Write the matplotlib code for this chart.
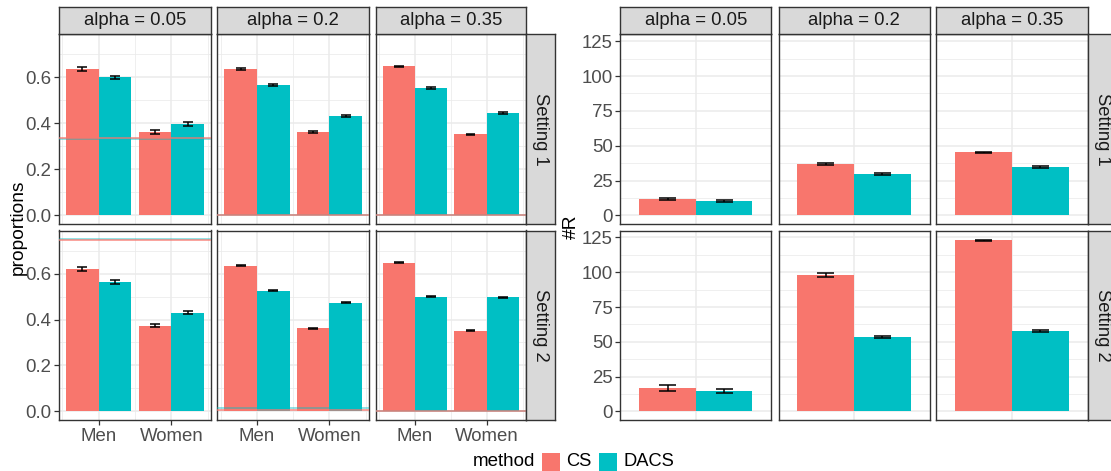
import numpy as np
import matplotlib
matplotlib.use("Agg")
import matplotlib.pyplot as plt
from matplotlib.patches import Rectangle
from matplotlib.ticker import FixedLocator

plt.rcParams['font.family'] = ['Liberation Sans', 'DejaVu Sans']

# ---------------- data ----------------
alpha_labels = ["alpha = 0.05", "alpha = 0.2", "alpha = 0.35"]
setting_labels = ["Setting 1", "Setting 2"]
groups = ["Men", "Women"]
methods = ["CS", "DACS"]
method_colors = ["#F8766D", "#00BFC4"]

# proportions, per alpha: [Men, Women]
prop_cs_s1 = [[0.636, 0.362], [0.635, 0.361], [0.648, 0.353]]
prop_dacs_s1 = [[0.600, 0.398], [0.566, 0.431], [0.553, 0.444]]
prop_cs_s2 = [[0.620, 0.373], [0.635, 0.361], [0.647, 0.351]]
prop_dacs_s2 = [[0.564, 0.429], [0.526, 0.474], [0.500, 0.496]]

prop_err_cs_s1 = [[0.009, 0.009], [0.004, 0.004], [0.003, 0.003]]
prop_err_dacs_s1 = [[0.008, 0.008], [0.004, 0.004], [0.004, 0.004]]
prop_err_cs_s2 = [[0.007, 0.006], [0.003, 0.003], [0.002, 0.002]]
prop_err_dacs_s2 = [[0.008, 0.007], [0.003, 0.003], [0.002, 0.002]]

# reference horizontal lines per alpha
hline_cs_s1 = [0.335, 0.0, 0.0]
hline_dacs_s1 = [0.334, 0.0, 0.0]
hline_cs_s2 = [0.745, 0.007, 0.0]
hline_dacs_s2 = [0.751, 0.014, 0.0]

# number of rejections, per alpha
nR_cs_s1 = [11.8, 36.9, 45.3]
nR_dacs_s1 = [10.2, 29.7, 34.6]
nR_cs_s2 = [16.6, 97.8, 123.0]
nR_dacs_s2 = [14.6, 53.2, 57.6]

nR_err_cs_s1 = [0.8, 0.5, 0.3]
nR_err_dacs_s1 = [0.7, 0.5, 0.5]
nR_err_cs_s2 = [2.0, 1.3, 0.3]
nR_err_dacs_s2 = [1.5, 0.8, 0.8]

prop_y_ticks = [0.0, 0.2, 0.4, 0.6]
prop_y_minor = [0.1, 0.3, 0.5, 0.7]
nR_y_ticks = [0, 25, 50, 75, 100, 125]
nR_y_minor = [12.5, 37.5, 62.5, 87.5, 112.5]

# ---------------- styling ----------------
W, H = 1111, 471
fig = plt.figure(figsize=(W / 100, H / 100), dpi=100)

GRAY20 = "#333333"
GRID = "#EBEBEB"
STRIP_BG = "#D9D9D9"
TICK_TXT = "#4D4D4D"
FS = 13.4
FS_STRIP = 13.3
BAR_W = 0.45
CAP = 0.0675


def px_axes(x0, y0, x1, y1):
    return fig.add_axes([x0 / W, 1 - y1 / H, (x1 - x0) / W, (y1 - y0) / H])


def style_panel(ax):
    for s in ax.spines.values():
        s.set_color(GRAY20)
        s.set_linewidth(1.0)
    ax.set_facecolor("white")
    ax.set_axisbelow(True)
    ax.grid(which="major", color=GRID, lw=1.1)
    ax.grid(which="minor", color=GRID, lw=0.55)
    ax.tick_params(which="minor", length=0)
    ax.tick_params(which="major", color=GRAY20, width=0.9, length=3.5,
                   labelsize=FS, labelcolor=TICK_TXT, pad=2)


def strip(x0, y0, x1, y1, text, rotation=0):
    sa = px_axes(x0, y0, x1, y1)
    sa.set_facecolor(STRIP_BG)
    sa.set_xticks([])
    sa.set_yticks([])
    for s in sa.spines.values():
        s.set_color(GRAY20)
        s.set_linewidth(1.0)
    sa.text(0.5, 0.5, text, ha="center", va="center", rotation=rotation,
            fontsize=FS_STRIP, color="#1A1A1A", transform=sa.transAxes)


def errbar(ax, x, y, e):
    ax.vlines(x, y - e, y + e, color="black", lw=1.1, zorder=4)
    ax.hlines([y - e, y + e], x - CAP, x + CAP, color="black", lw=1.1, zorder=4)


rows_y = [(34.3, 224.0), (230.5, 420.0)]
left_cols = [(59.0, 211.0), (217.5, 369.0), (375.7, 526.0)]
right_cols = [(620.4, 771.2), (778.6, 929.7), (936.3, 1087.8)]

prop_cs = [prop_cs_s1, prop_cs_s2]
prop_dacs = [prop_dacs_s1, prop_dacs_s2]
prop_err_cs = [prop_err_cs_s1, prop_err_cs_s2]
prop_err_dacs = [prop_err_dacs_s1, prop_err_dacs_s2]
hl_cs = [hline_cs_s1, hline_cs_s2]
hl_dacs = [hline_dacs_s1, hline_dacs_s2]
nR_cs = [nR_cs_s1, nR_cs_s2]
nR_dacs = [nR_dacs_s1, nR_dacs_s2]
nR_err_cs = [nR_err_cs_s1, nR_err_cs_s2]
nR_err_dacs = [nR_err_dacs_s1, nR_err_dacs_s2]

# ---------------- left plot: proportions ----------------
xg = np.arange(1, len(groups) + 1)
for r in range(2):
    y0, y1 = rows_y[r]
    for c in range(3):
        x0, x1 = left_cols[c]
        ax = px_axes(x0, y0, x1, y1)
        style_panel(ax)
        cs = np.array(prop_cs[r][c])
        da = np.array(prop_dacs[r][c])
        ax.bar(xg - BAR_W / 2, cs, width=BAR_W, color=method_colors[0], zorder=2)
        ax.bar(xg + BAR_W / 2, da, width=BAR_W, color=method_colors[1], zorder=2)
        for i in range(len(groups)):
            errbar(ax, xg[i] - BAR_W / 2, cs[i], prop_err_cs[r][c][i])
            errbar(ax, xg[i] + BAR_W / 2, da[i], prop_err_dacs[r][c][i])
        ax.axhline(hl_dacs[r][c], color=method_colors[1], lw=1.1, alpha=0.55, zorder=3)
        ax.axhline(hl_cs[r][c], color=method_colors[0], lw=1.1, alpha=0.85, zorder=3)
        ax.set_xlim(0.455, 2.545)
        ax.set_ylim(-0.0375, 0.7875)
        ax.set_xticks(xg)
        ax.xaxis.set_minor_locator(FixedLocator([0.5, 1.5, 2.5]))
        ax.set_yticks(prop_y_ticks)
        ax.yaxis.set_minor_locator(FixedLocator(prop_y_minor))
        if c == 0:
            ax.set_yticklabels([f"{v:.1f}" for v in prop_y_ticks])
        else:
            ax.set_yticklabels([])
            ax.tick_params(axis="y", which="major", length=0)
        if r == 1:
            ax.set_xticklabels(groups)
        else:
            ax.set_xticklabels([])
            ax.tick_params(axis="x", which="major", length=0)
        if r == 0:
            strip(x0, 7.3, x1, 34.3, alpha_labels[c])
    strip(526.0, y0, 555.0, y1, setting_labels[r], rotation=-90)

# ---------------- right plot: #R ----------------
for r in range(2):
    y0, y1 = rows_y[r]
    for c in range(3):
        x0, x1 = right_cols[c]
        ax = px_axes(x0, y0, x1, y1)
        style_panel(ax)
        xc = 1.0
        ax.bar(xc - BAR_W / 2, nR_cs[r][c], width=BAR_W, color=method_colors[0], zorder=2)
        ax.bar(xc + BAR_W / 2, nR_dacs[r][c], width=BAR_W, color=method_colors[1], zorder=2)
        errbar(ax, xc - BAR_W / 2, nR_cs[r][c], nR_err_cs[r][c])
        errbar(ax, xc + BAR_W / 2, nR_dacs[r][c], nR_err_dacs[r][c])
        ax.set_xlim(0.4, 1.6)
        ax.set_ylim(-6.2, 130.0)
        ax.set_xticks([xc])
        ax.set_xticklabels([])
        ax.tick_params(axis="x", which="major", length=0)
        ax.set_yticks(nR_y_ticks)
        ax.yaxis.set_minor_locator(FixedLocator(nR_y_minor))
        if c == 0:
            ax.set_yticklabels([str(v) for v in nR_y_ticks])
        else:
            ax.set_yticklabels([])
            ax.tick_params(axis="y", which="major", length=0)
        if r == 0:
            strip(x0, 7.3, x1, 34.3, alpha_labels[c])
    strip(1087.8, y0, 1117.0, y1, setting_labels[r], rotation=-90)

# axis titles
fig.text(18 / W, 1 - 227 / H, "proportions", rotation=90, ha="center", va="center",
         fontsize=13.8, color="black")
fig.text(571 / W, 1 - 227 / H, "#R", rotation=90, ha="center", va="center",
         fontsize=13.8, color="black")

# ---------------- legend ----------------
lg = fig.add_axes([0, 0, 1, 1], facecolor="none")
lg.set_xlim(0, W)
lg.set_ylim(H, 0)
lg.axis("off")
ly = 462
lg.text(473, ly, "method", ha="left", va="center", fontsize=13.5, color="black")
lg.add_patch(Rectangle((541.5, ly - 9), 18, 18, color=method_colors[0], lw=0))
lg.text(566.5, ly, methods[0], ha="left", va="center", fontsize=13.2, color="black")
lg.add_patch(Rectangle((598.5, ly - 9), 18, 18, color=method_colors[1], lw=0))
lg.text(623.5, ly, methods[1], ha="left", va="center", fontsize=13.2, color="black")

fig.savefig("out.png", dpi=100)
